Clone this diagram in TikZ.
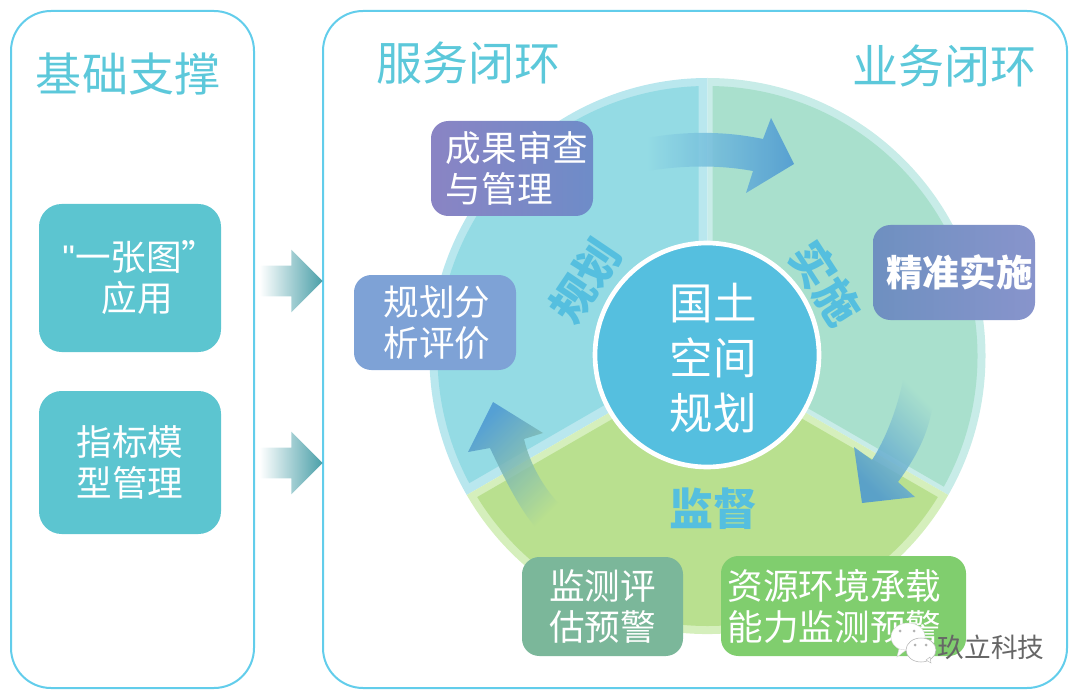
\documentclass[tikz,border=0pt]{standalone}
\usepackage{fontspec}
\setmainfont{Noto Sans CJK SC}
\newfontfamily\quotefont{Liberation Sans}
\usetikzlibrary{shapes.arrows, positioning, calc}
\definecolor{frameBlue}{HTML}{62CDEB}
\definecolor{headText}{HTML}{5CC8DA}
\definecolor{baseBox}{HTML}{5CC5D0}
\definecolor{hubBlue}{HTML}{55BFDF}
\definecolor{blueRing}{HTML}{B9E7EE}
\definecolor{blueSector}{HTML}{94DBE4}
\definecolor{tealRing}{HTML}{C8ECE8}
\definecolor{tealSector}{HTML}{A9E0CD}
\definecolor{greenRing}{HTML}{D5EFBC}
\definecolor{greenSector}{HTML}{B9E08F}
\definecolor{flowBlue}{HTML}{4A96D2}
\definecolor{flowTeal}{HTML}{58BFC4}
\definecolor{sideMid}{HTML}{A8DCC4}
\definecolor{sideEnd}{HTML}{4A9FA8}
\definecolor{reviewLeft}{HTML}{8A84C4}
\definecolor{reviewRight}{HTML}{6E8CC8}
\definecolor{analysisFill}{HTML}{7EA2D6}
\definecolor{implLeft}{HTML}{6E90C0}
\definecolor{implRight}{HTML}{8894CC}
\definecolor{monitorFill}{HTML}{7BB79A}
\definecolor{capacityFill}{HTML}{80CE6E}
\def\px{0.75pt}
\tikzset{
  frame box/.style={
    draw=frameBlue, line width=1.5pt, rounded corners=30pt
  },
  head text/.style={
    text=headText, font=\fontsize{34.5}{40}\selectfont, inner sep=0pt
  },
  plan box/.style={
    rectangle, rounded corners=13pt, text=white, align=center, inner sep=0pt,
    minimum width=162*\px, minimum height=95*\px,
    font=\fontsize{26.7}{30.8}\selectfont
  },
  base box/.style={
    plan box, fill=baseBox, rounded corners=17pt,
    minimum width=182*\px, minimum height=146*\px
  },
  sector text/.style={
    text=hubBlue, inner sep=0pt, font=\fontsize{33}{38}\selectfont\bfseries
  },
  side arrow/.style={
    single arrow, minimum height=63*\px, inner sep=15*\px,
    single arrow head extend=16*\px,
    left color=white, middle color=sideMid, right color=sideEnd
  },
  flow arrow/.style 2 args={
    top color=flowBlue, middle color=flowTeal, bottom color=#2,
    shading angle=#1, opacity=0.85
  }
}
\begin{document}
\begin{tikzpicture}[x=0.75pt, y=-0.75pt]
  \useasboundingbox (0,0) rectangle (1080,695);
  % Two frames
  \node (leftframe) at (132.5,349.5) [frame box, minimum width=243*\px, minimum height=677*\px] {};
  \node (rightframe) at (695,349.5) [frame box, minimum width=744*\px, minimum height=677*\px] {};
  \node (basehead) at (128,74) [head text] {基础支撑};
  \node (servhead) at (468,63) [head text] {服务闭环};
  \node (bizhead) at (944,66) [head text] {业务闭环};
  % Left column
  \node (mapbox) at (130,278) [base box, minimum height=148*\px] {\hspace*{15pt}{\quotefont"}一张图”\\\hspace*{11pt}应用};
  \node (modelbox) at (130,462.5) [base box, minimum height=143*\px] {指标模\\型管理};
  \node (maparrow) at (283.5,281) [side arrow] {};
  \node (modelarrow) at (283.5,463) [side arrow] {};
  % Wheel: three sectors
  \coordinate (wheel) at (707.5,356);
  \foreach \from/\to/\ringcol/\fillcol/\gap in {150/270/blueRing/blueSector/9, 270/390/tealRing/tealSector/5, 30/150/greenRing/greenSector/7} {
    \pgfmathsetmacro{\midang}{(\from+\to)/2}
    \pgfmathsetmacro{\apex}{\gap*1.155}
    \fill[\ringcol] (wheel) -- ++(\from:278) arc (\from:\to:278) -- cycle;
    \begin{scope}
      \clip (wheel) circle (270);
      \fill[\fillcol] ($(wheel)+(\midang:\apex)$) -- ++(\from:400) -- ++(\to:400) -- ++(\from+180:400) -- cycle;
    \end{scope}
  }
  % Flow arrows
  \shade[flow arrow={270}{blueSector}] (647,138) .. controls (685,131) and (725,131) .. (763,139) -- (771,118) -- (794,164) -- (746,193) -- (753,171) .. controls (720,165) and (685,165) .. (647,171) -- cycle;
  \shade[flow arrow={135}{tealSector}] (903,380) -- (935,388) .. controls (932,420) and (925,445) .. (898,482) -- (915,497) -- (862,503) -- (854,447) -- (872,460) .. controls (885,440) and (897,410) .. (903,380) -- cycle;
  \shade[flow arrow={45}{greenSector}] (493,402) -- (543,433) -- (524,439) .. controls (530,465) and (545,490) .. (562,507) -- (542,533) .. controls (525,520) and (505,480) .. (490,448) -- (468,452) -- cycle;
  % Hub and sector labels
  \node (hub) at (707,355) [circle, draw=white, line width=3.5pt, fill=hubBlue, minimum size=224*\px, inner sep=0pt] {};
  \node (hubtext) at (713,358) [text=white, align=center, inner sep=0pt, font=\fontsize{32.6}{41.2}\selectfont] {国土\\空间\\规划};
  \node (plantext) at (585,281) [sector text, rotate=56] {规划};
  \node (imptext) at (826,283) [sector text, rotate=-57] {实施};
  \node (suptext) at (713,509) [sector text] {监督};
  % Service boxes around the wheel
  \node (review) at (512,168.5) [plan box, align=left, left color=reviewLeft, right color=reviewRight] {\hspace*{7.5pt}成果审查\\\hspace*{7.5pt}与管理};
  \node (analysis) at (435,322.5) [plan box, fill=analysisFill] {\hspace*{3pt}规划分\\\hspace*{3pt}析评价};
  \node (impl) at (954,272.5) [plan box, left color=implLeft, right color=implRight] {\fontsize{27.5}{31}\selectfont\bfseries\hspace*{8pt}\raisebox{3pt}{精准实施}};
  \node (monitor) at (602.5,606.5) [plan box, fill=monitorFill, minimum width=161*\px, minimum height=99*\px] {监测评\\估预警};
  \node (capacity) at (843.5,606) [plan box, fill=capacityFill, minimum width=245*\px, minimum height=100*\px] {资源环境承载\hspace*{13.5pt}\\能力监测预警\hspace*{13.5pt}};
  % Mark in the lower right
  \fill[white, draw=gray!30, line width=0.3pt] (908,637) ellipse (17 and 14);
  \fill[white, draw=gray!30, line width=0.3pt] (899,649) -- (897,657) -- (906,650) -- cycle;
  \fill[white, draw=gray!60, line width=0.4pt] (921,650) ellipse (15 and 12);
  \fill[white, draw=gray!60, line width=0.3pt] (926,660) -- (931,663) -- (930,657) -- cycle;
  \fill[gray!60] (900,631) circle (1.5) (914,631) circle (1.5) (915,645) circle (1.5) (926,645) circle (1.5);
  \node (mark) at (991,647) [text=gray!80!black, inner sep=0pt, font=\fontsize{20}{24}\selectfont] {玖立科技};
\end{tikzpicture}
\end{document}
